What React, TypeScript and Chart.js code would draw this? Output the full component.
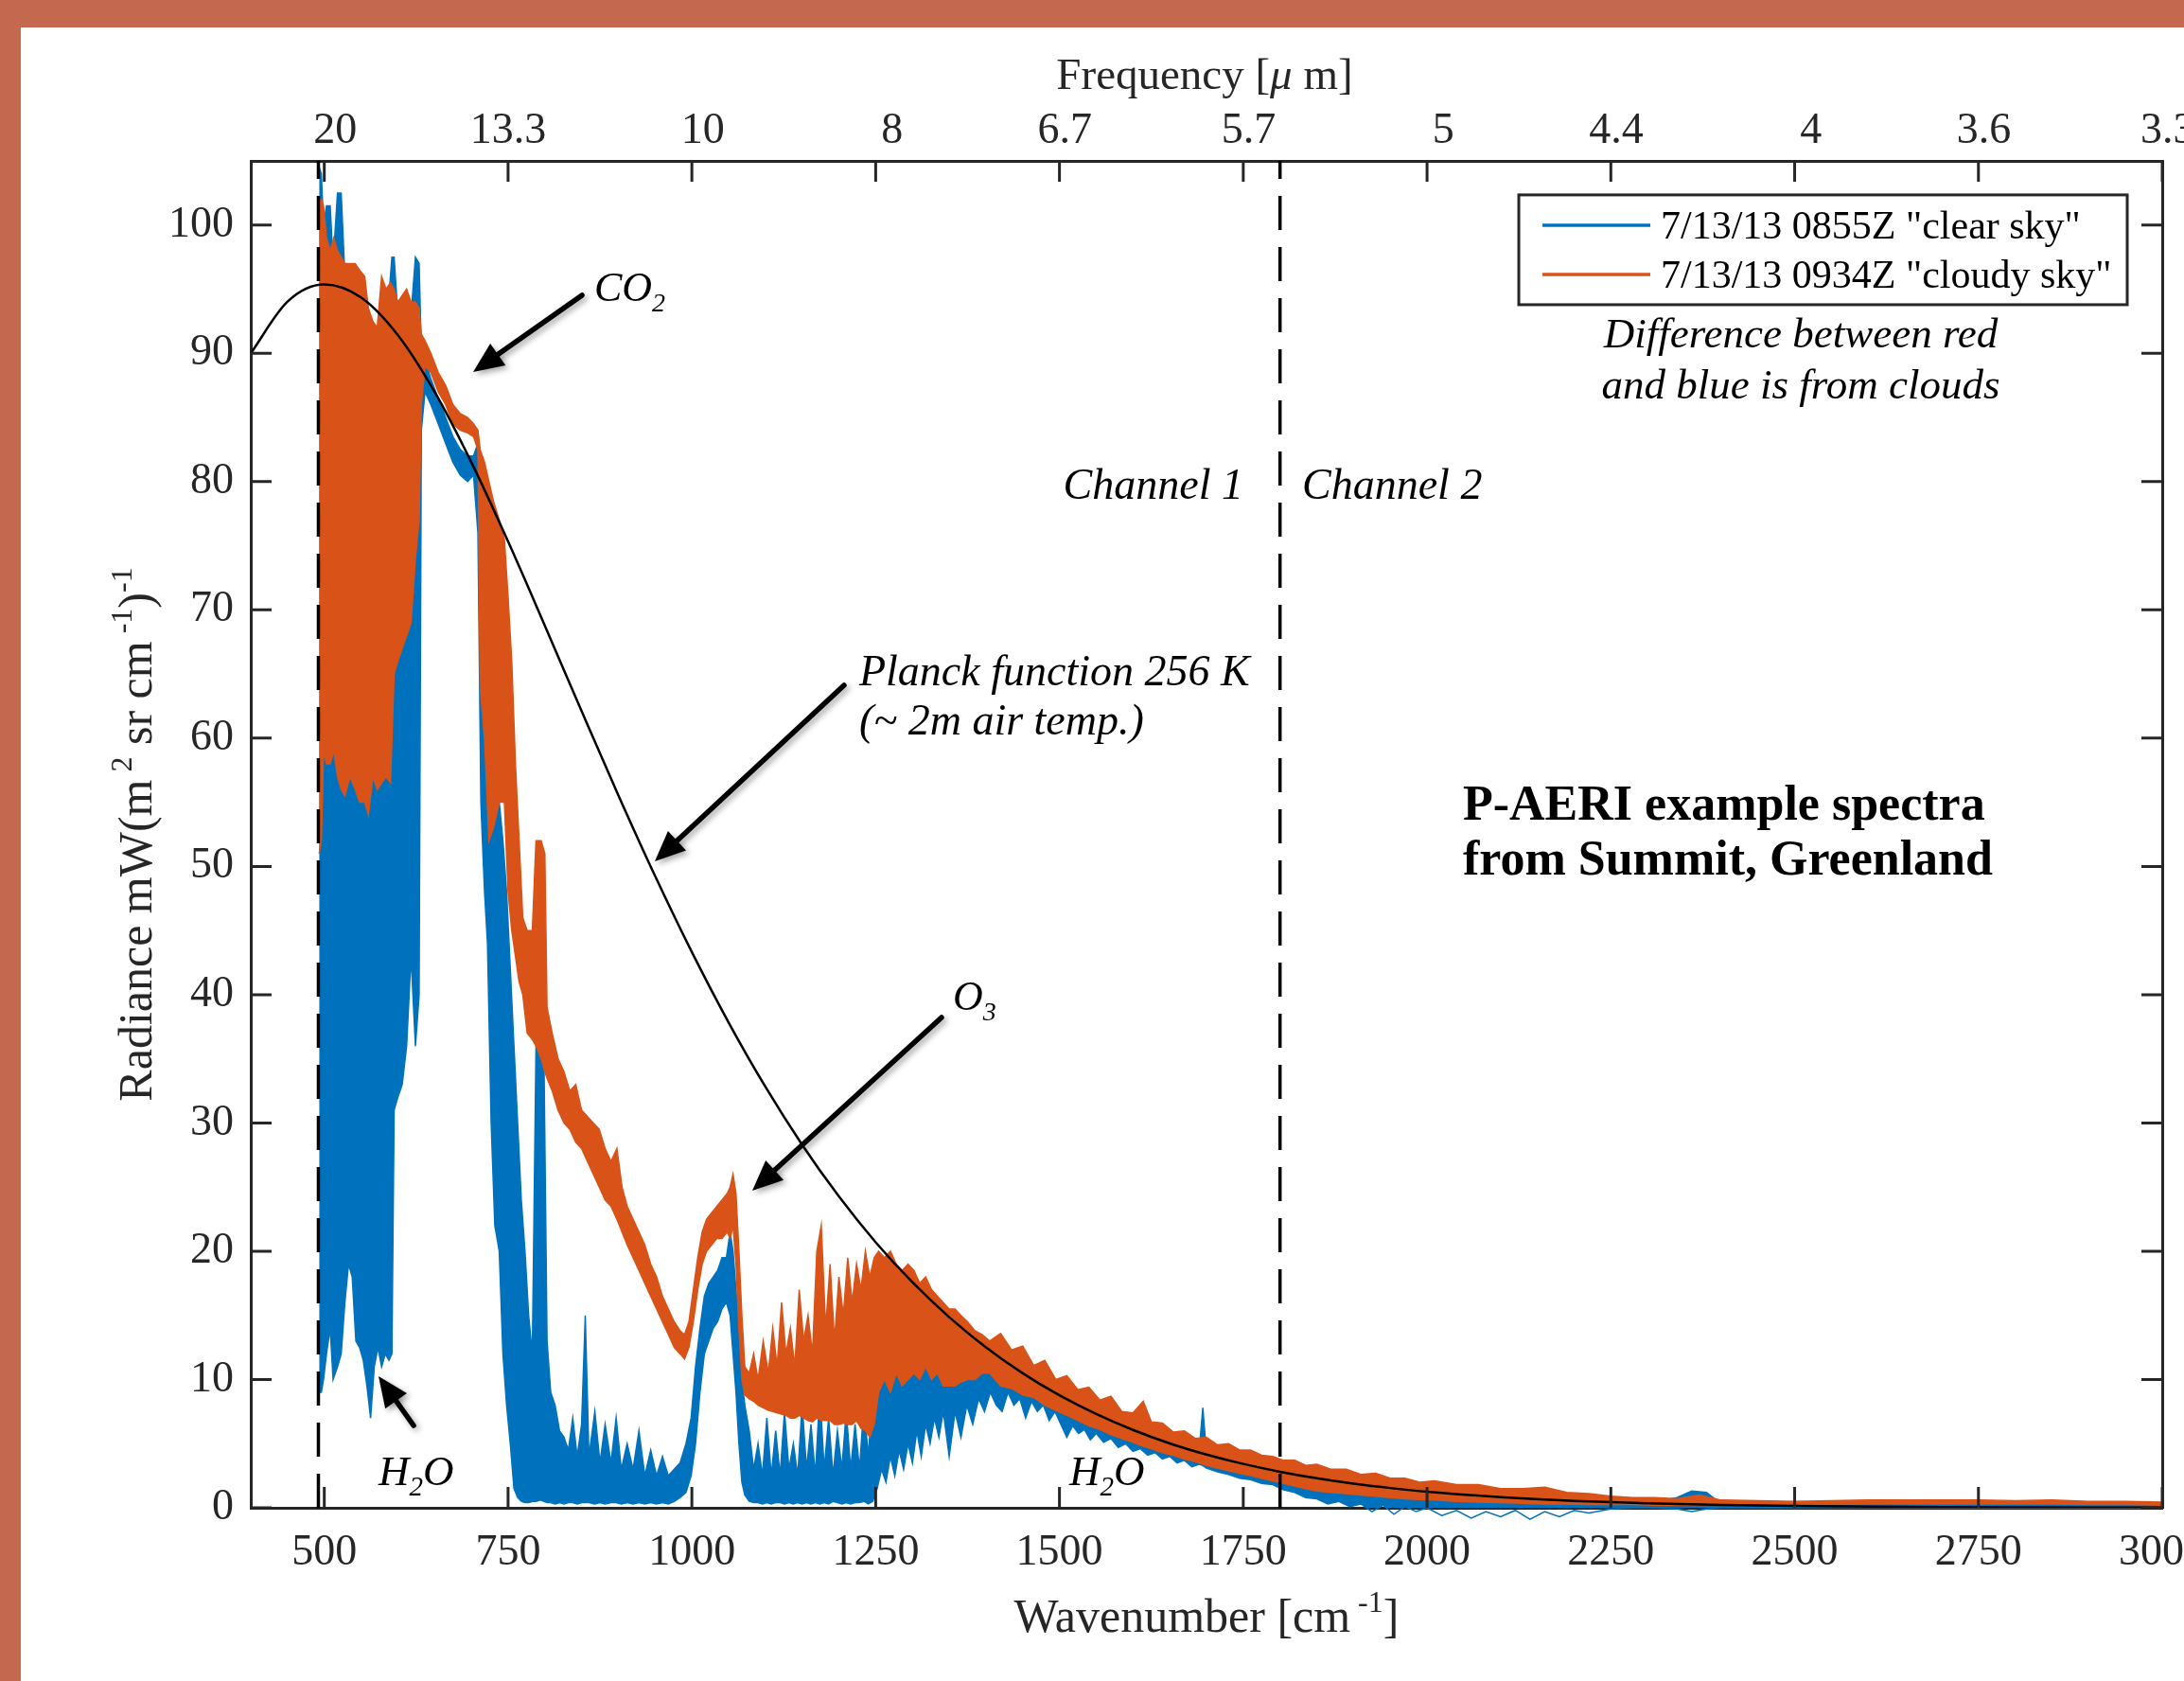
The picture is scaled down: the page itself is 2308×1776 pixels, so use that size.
import React, { useEffect, useRef } from 'react';
import { Chart, registerables } from 'chart.js';

Chart.register(...registerables);

const W = 2308;
const H = 1776;
const SERIF = '"Liberation Serif", "Times New Roman", Times, serif';
const AXIS = '#262626';
const BLUE = '#0072BD';
const ORANGE = '#D95319';
const FRAME = '#C4694F';

// ---- axes ----
const xTicks = [500, 750, 1000, 1250, 1500, 1750, 2000, 2250, 2500, 2750, 3000];
// top-axis labels are right-justified to 4 characters in the original
const freqLabels = ['  20', '13.3', '  10', '   8', ' 6.7', ' 5.7', '   5', ' 4.4', '   4', ' 3.6', ' 3.3'];
const yTicks = [0, 10, 20, 30, 40, 50, 60, 70, 80, 90, 100];

// ---- series labels ----
const clearLabel = '7/13/13 0855Z "clear sky"';
const cloudyLabel = '7/13/13 0934Z "cloudy sky"';

// ---- channel boundaries (cm-1) ----
const channelEdges = [492, 1800];

// ---- Planck 256 K curve: wavenumber, radiance ----
const planckWn = [400, 450, 500, 550, 600, 650, 700, 750, 800, 850, 900, 950, 1000, 1050, 1100, 1150, 1200, 1250, 1300, 1350, 1400, 1450, 1500, 1550, 1600, 1650, 1700, 1750, 1800, 1850, 1900, 1950, 2000, 2100, 2200, 2300, 2400, 2500, 2600, 2700, 2800, 2900, 3000];
const planckVal = [90.0, 94.03, 95.37, 94.35, 91.42, 87.0, 81.51, 75.33, 68.77, 62.11, 55.55, 49.25, 43.32, 37.83, 32.82, 28.3, 24.27, 20.7, 17.58, 14.86, 12.51, 10.49, 8.77, 7.31, 6.07, 5.02, 4.15, 3.42, 2.81, 2.3, 1.88, 1.54, 1.25, 0.83, 0.54, 0.35, 0.23, 0.15, 0.094, 0.06, 0.038, 0.024, 0.015];

// ---- clear-sky spectrum envelope: [wavenumber, upper, lower] ----
const clearSpectrum: number[][] = [
  [493, 104.5, 9], [496, 104, 9], [499, 100, 10], [503, 101.5, 12], [508, 101.5, 14], [512, 97, 10], [518, 102.5, 11], [523, 102.5, 12], [528, 96, 16], [533, 96, 19], [538, 96, 18], [543, 96, 13], [548, 95.5, 12.5], [553, 95, 11.5], [558, 92.5, 9.5], [563, 92, 7], [568, 91.5, 11], [573, 91, 12.5], [578, 95, 11], [583, 94, 12], [588, 94.5, 11.5], [592, 97.5, 12], [595, 97.5, 31], [600, 93, 32], [606, 93.5, 33], [612, 94, 36], [618, 93, 43], [624, 97.5, 36], [629, 97, 40],
  [632, 90, 84], [637, 89.5, 87], [645, 88, 86], [655, 86.5, 84.5], [665, 85, 83], [675, 83.5, 81.5], [685, 82.5, 80.5], [695, 82, 80], [703, 82, 80.5], [709, 83, 76],
  [713, 81, 55], [718, 80, 48], [722, 78, 44], [727, 62, 30], [732, 57, 22], [738, 55, 20], [743, 52, 12], [748, 48, 8], [753, 42, 5], [758, 36, 1.5], [763, 30, 0.8], [768, 24, 0.5], [773, 20, 0.4], [778, 15, 0.4], [783, 12, 0.5], [788, 36, 0.5], [794, 37, 0.6], [799, 34, 0.5], [803, 13, 0.4], [808, 9, 0.4], [814, 8, 0.3], [820, 6, 0.4], [826, 5.5, 0.3], [832, 4.5, 0.4], [838, 7, 0.4], [844, 4, 0.3], [850, 6.5, 0.4], [855, 15, 0.4], [860, 4, 0.4], [868, 7.5, 0.3], [875, 3.5, 0.4], [882, 6.5, 0.3], [890, 3.5, 0.4], [897, 7, 0.4], [904, 3, 0.3], [912, 5, 0.4], [920, 3, 0.3], [928, 6, 0.4], [936, 2.5, 0.3], [944, 4.5, 0.4], [952, 2.5, 0.3], [960, 4, 0.4], [968, 2.5, 0.3], [976, 3, 0.5], [984, 3.5, 0.8], [992, 5, 1.2],
  [999, 7, 2.5], [1005, 11, 5], [1011, 14, 9], [1017, 16.5, 12], [1023, 17.5, 13], [1029, 18, 14], [1035, 18.5, 14.5], [1041, 19.5, 15.5], [1047, 19.5, 16], [1052, 21.5, 15], [1056, 20, 12], [1060, 17, 9], [1064, 14, 5], [1068, 10, 2], [1072, 8, 1], [1078, 6, 0.5],
  [1084, 3, 0.4], [1090, 5, 0.4], [1096, 2.5, 0.3], [1102, 7, 0.4], [1108, 2.5, 0.3], [1114, 6, 0.4], [1120, 2.5, 0.4], [1126, 7.5, 0.3], [1132, 3, 0.4], [1138, 5, 0.3], [1144, 2.5, 0.4], [1150, 8, 0.3], [1156, 3, 0.4], [1162, 6.5, 0.3], [1168, 2.5, 0.4], [1174, 9, 0.3], [1180, 3, 0.4], [1186, 7, 0.3], [1192, 2.5, 0.5], [1198, 6, 0.4], [1204, 3, 0.3], [1210, 7.5, 0.4], [1216, 3, 0.3], [1222, 6.5, 0.4], [1228, 3, 0.4], [1234, 8, 0.5], [1240, 4, 0.3], [1246, 9, 0.5],
  [1252, 10, 1.5], [1258, 11, 3], [1264, 12, 2], [1270, 11, 4], [1276, 12.5, 2.5], [1282, 11.5, 4.5], [1288, 13, 3], [1294, 12, 5], [1300, 13.5, 3.5], [1306, 12.5, 6], [1312, 14, 4], [1318, 13, 6.5], [1324, 14, 5], [1330, 13, 7], [1336, 14, 5.5], [1342, 13.5, 7.5], [1350, 14, 4], [1358, 13, 7.5], [1366, 13.5, 5.5], [1374, 12.5, 8], [1382, 13, 6.5], [1390, 12.5, 8.5], [1398, 12.5, 7.5], [1406, 12, 9], [1414, 12, 8], [1422, 11.5, 7.5], [1430, 11.2, 9], [1438, 11, 8], [1446, 10.7, 8.5], [1454, 10.4, 7], [1462, 10.1, 8.3], [1470, 9.8, 7.5], [1478, 9.5, 8], [1486, 9.2, 6.8], [1494, 8.9, 7.5], [1502, 8.7, 6.5], [1510, 8.4, 5.5], [1518, 8.1, 6.4], [1526, 7.9, 5.8], [1534, 7.7, 6.1], [1542, 7.4, 5.3], [1550, 7.2, 5.8], [1560, 6.9, 5.1], [1570, 6.6, 5.4], [1580, 6.4, 4.7], [1590, 6.2, 5], [1600, 6, 4.4], [1610, 5.8, 4.6], [1620, 5.6, 4.1], [1630, 5.4, 4.3], [1640, 5.2, 3.8], [1650, 5, 4], [1660, 4.9, 3.5], [1670, 4.7, 3.7], [1680, 4.6, 3.2], [1690, 4.4, 3.4], [1695, 7.8, 3.3], [1700, 4.2, 3.1], [1715, 4, 2.8], [1730, 3.8, 2.6], [1745, 3.6, 2.3], [1760, 3.4, 2.2], [1775, 3.2, 1.9], [1790, 3, 1.8], [1805, 2.9, 1.4], [1820, 2.7, 1.2], [1835, 2.6, 0.8], [1850, 2.4, 0.7], [1865, 2.3, 0.3], [1880, 2.1, 0.5], [1895, 2, 0.1], [1910, 1.9, 0.3], [1925, 1.8, -0.3], [1940, 1.7, 0.2], [1955, 1.6, -0.5], [1970, 1.5, 0.1], [1985, 1.4, -0.3], [2000, 1.3, 0], [2020, 1.2, -0.6], [2040, 1.1, -0.2], [2060, 1, -0.8], [2080, 0.9, -0.3], [2100, 0.85, -0.7], [2120, 0.8, -0.2], [2140, 0.7, -0.9], [2160, 0.65, -0.3], [2180, 0.6, -0.7], [2200, 0.55, -0.2], [2220, 0.5, -0.4], [2250, 0.5, -0.1], [2280, 0.45, 0], [2310, 0.5, 0], [2340, 0.8, -0.1], [2360, 1.3, -0.3], [2380, 1.2, -0.1], [2400, 0.3, 0], [2500, 0.25, 0], [2700, 0.25, 0], [3000, 0.25, 0],
];

// ---- cloudy-sky spectrum envelope: [wavenumber, upper, lower] ----
const cloudySpectrum: number[][] = [
  [493, 102, 51], [496, 102, 52], [499, 101.5, 59], [503, 99, 58], [508, 98, 58], [513, 99, 59], [518, 98, 57], [523, 97.5, 56], [528, 97, 55.5], [535, 97, 57], [542, 97, 56], [548, 96.5, 55], [555, 96, 55], [560, 93.5, 54], [566, 92.5, 57], [572, 92, 56], [578, 96, 56.5], [584, 95, 57], [590, 95.5, 56.5], [595, 95, 65], [600, 94, 66], [606, 94.5, 67], [612, 95, 68], [618, 94, 69], [624, 94, 74], [629, 93.5, 77],
  [632, 91.5, 86], [637, 91, 89], [645, 90, 88.5], [655, 88.5, 87], [665, 87.5, 86], [675, 86, 84.5], [685, 85.3, 84], [695, 85, 83.8], [703, 84.5, 83.5], [709, 84, 82.5],
  [712, 82.5, 64], [718, 81.5, 60], [724, 80, 52], [730, 78.5, 53], [738, 77, 55], [745, 75.5, 55], [750, 71, 48], [755, 66, 45], [760, 58, 43], [765, 52, 41], [770, 46, 40], [776, 45, 37], [783, 45, 36.5], [788, 52, 36], [795, 52, 35], [800, 51, 34], [803, 39, 33.5], [810, 37, 32.5], [818, 35, 31], [826, 34, 30], [834, 32.5, 29.5], [842, 33, 28.5], [850, 31, 28], [858, 30.5, 27], [866, 30, 26], [874, 29.5, 25], [882, 28, 24], [890, 27, 23.5], [898, 28, 22.5], [905, 25, 21.5], [912, 23.5, 20.5], [920, 22.5, 19.5], [928, 21.5, 18.5], [936, 20.5, 17.5], [944, 19, 16.5], [952, 18, 15.5], [960, 16.5, 14.5], [968, 15.5, 13.5], [976, 14.5, 12.5], [984, 13.8, 12], [990, 13.5, 11.6],
  [996, 14.5, 12.5], [1002, 17, 14.5], [1008, 19.5, 17], [1014, 21.5, 19], [1020, 22.5, 20], [1027, 23, 20.5], [1034, 23.5, 21], [1041, 24, 21], [1048, 24.5, 21.5], [1052, 25, 21], [1056, 26, 22], [1060, 24.5, 19], [1064, 20, 14], [1068, 15, 10], [1072, 11, 8.8],
  [1078, 10.5, 8.5], [1084, 12, 8.3], [1090, 10, 8], [1097, 13, 7.8], [1104, 10.5, 7.6], [1110, 14, 7.5], [1116, 11, 7.4], [1122, 16, 7.3], [1128, 12, 7.2], [1134, 14, 7], [1140, 11, 7], [1146, 17, 7.2], [1152, 13, 7], [1158, 15, 6.8], [1164, 12, 6.7], [1170, 20, 7], [1176, 22, 6.8], [1182, 14, 6.8], [1188, 19, 6.8], [1194, 13, 6.5], [1200, 18, 6.5], [1206, 15, 6.6], [1212, 19.5, 6.5], [1218, 16, 6.5], [1224, 19, 6.8], [1230, 17, 6.2], [1236, 20, 6], [1242, 18, 5.5], [1248, 19.5, 6.5],
  [1254, 20, 9], [1262, 19.5, 10], [1270, 20, 9], [1278, 19, 10.5], [1286, 18.5, 9.5], [1294, 19, 10], [1302, 18.5, 10.5], [1310, 17.5, 10], [1318, 18, 11], [1326, 17, 10], [1334, 16.5, 10.5], [1342, 16, 9.5], [1350, 15.5, 9.5], [1358, 15.5, 9.5], [1366, 15, 9.8], [1375, 14.5, 10], [1385, 13.8, 10], [1395, 13.5, 10.5], [1405, 13, 10.5],
  [1420, 13.6, 9.5], [1435, 12.3, 9.3], [1450, 12.6, 8.8], [1465, 11.1, 8.6], [1480, 11.5, 8], [1495, 10, 7.6], [1510, 10.3, 7.2], [1525, 9.2, 6.8], [1540, 9.4, 6.4], [1555, 8.4, 6.1], [1570, 8.7, 5.7], [1585, 7.5, 5.4], [1600, 7.4, 5.1], [1614, 8.3, 4.8], [1625, 6.7, 4.6], [1640, 6.6, 4.3], [1655, 5.9, 4.1], [1670, 6, 3.8], [1685, 5.4, 3.6], [1700, 5.5, 3.3], [1715, 4.9, 3.1], [1730, 5, 2.9], [1745, 4.5, 2.7], [1760, 4.5, 2.5], [1775, 4.1, 2.3], [1790, 4, 2.1], [1805, 3.7, 1.9], [1820, 3.7, 1.7], [1835, 3.3, 1.5], [1850, 3.4, 1.3], [1870, 3, 1.2], [1890, 3, 1.1], [1910, 2.6, 1], [1930, 2.7, 0.9], [1950, 2.3, 0.8], [1970, 2.3, 0.7], [1990, 2, 0.65], [2010, 2.1, 0.6], [2040, 1.8, 0.5], [2070, 1.8, 0.45], [2100, 1.5, 0.4], [2130, 1.5, 0.35], [2160, 1.6, 0.3], [2190, 1.2, 0.3], [2220, 1.1, 0.25], [2250, 0.9, 0.25], [2280, 0.8, 0.25], [2310, 0.8, 0.2], [2340, 0.7, 0.2], [2370, 1, 0.2], [2400, 0.6, 0.2], [2450, 0.55, 0.25], [2500, 0.5, 0.25], [2550, 0.55, 0.25], [2600, 0.6, 0.3], [2650, 0.6, 0.3], [2700, 0.6, 0.3], [2750, 0.6, 0.3], [2800, 0.55, 0.3], [2850, 0.6, 0.3], [2900, 0.5, 0.25], [2950, 0.5, 0.25], [3000, 0.45, 0.2],
];

// ---------- drawing helpers ----------
type Seg = { t: string; sup?: boolean; sub?: boolean; it?: boolean };

function drawRich(
  ctx: CanvasRenderingContext2D,
  segs: Seg[],
  x: number,
  y: number,
  size: number,
  opts: { italic?: boolean; bold?: boolean; align?: 'left' | 'center' | 'right'; color?: string } = {}
) {
  const fontOf = (sz: number, it: boolean) => `${it ? 'italic ' : ''}${opts.bold ? 'bold ' : ''}${sz}px ${SERIF}`;
  const widths: number[] = [];
  let total = 0;
  for (const s of segs) {
    const sz = s.sup || s.sub ? Math.round(size * 0.64) : size;
    ctx.font = fontOf(sz, !!(opts.italic || s.it));
    const w = ctx.measureText(s.t).width;
    widths.push(w);
    total += w;
  }
  const align = opts.align || 'left';
  let cx = align === 'center' ? x - total / 2 : align === 'right' ? x - total : x;
  ctx.textAlign = 'left';
  ctx.textBaseline = 'alphabetic';
  ctx.fillStyle = opts.color || '#000';
  segs.forEach((s, i) => {
    const sz = s.sup || s.sub ? Math.round(size * 0.64) : size;
    ctx.font = fontOf(sz, !!(opts.italic || s.it));
    const dy = s.sup ? -size * 0.42 : s.sub ? size * 0.24 : 0;
    ctx.fillText(s.t, cx, y + dy);
    cx += widths[i];
  });
}

function drawArrow(ctx: CanvasRenderingContext2D, x1: number, y1: number, x2: number, y2: number) {
  const ang = Math.atan2(y2 - y1, x2 - x1);
  const hl = 32;
  const hw = 14;
  const bx = x2 - hl * Math.cos(ang);
  const by = y2 - hl * Math.sin(ang);
  ctx.save();
  ctx.shadowColor = 'rgba(0,0,0,0.35)';
  ctx.shadowBlur = 6;
  ctx.shadowOffsetX = 3;
  ctx.shadowOffsetY = 3;
  ctx.strokeStyle = '#000';
  ctx.fillStyle = '#000';
  ctx.lineWidth = 5.5;
  ctx.lineCap = 'round';
  ctx.beginPath();
  ctx.moveTo(x1, y1);
  ctx.lineTo(bx + 4 * Math.cos(ang), by + 4 * Math.sin(ang));
  ctx.stroke();
  ctx.beginPath();
  ctx.moveTo(x2, y2);
  ctx.lineTo(bx + hw * Math.sin(ang), by - hw * Math.cos(ang));
  ctx.lineTo(bx - hw * Math.sin(ang), by + hw * Math.cos(ang));
  ctx.closePath();
  ctx.fill();
  ctx.restore();
}

const framePlugin = {
  id: 'frame',
  beforeDraw(chart: any) {
    const { ctx, width, height } = chart;
    ctx.save();
    ctx.fillStyle = '#ffffff';
    ctx.fillRect(0, 0, width, height);
    ctx.fillStyle = FRAME;
    ctx.fillRect(0, 0, width, 29);
    ctx.fillRect(0, 0, 22, height);
    ctx.restore();
  },
};

const decorPlugin = {
  id: 'decor',
  afterDraw(chart: any) {
    const { ctx, chartArea: a, scales } = chart;
    const sx = scales.x;
    const sy = scales.y;
    const P = (wn: number, v: number): [number, number] => [sx.getPixelForValue(wn), sy.getPixelForValue(v)];
    ctx.save();

    // inward tick marks on all four sides
    const TL = 22;
    ctx.strokeStyle = AXIS;
    ctx.lineWidth = 3;
    ctx.beginPath();
    for (const t of scales.x.ticks) {
      const p = scales.x.getPixelForValue(t.value);
      ctx.moveTo(p, a.bottom);
      ctx.lineTo(p, a.bottom - TL);
    }
    for (const t of scales.x2.ticks) {
      const p = scales.x2.getPixelForValue(t.value);
      ctx.moveTo(p, a.top);
      ctx.lineTo(p, a.top + TL);
    }
    for (const t of scales.y.ticks) {
      const p = scales.y.getPixelForValue(t.value);
      ctx.moveTo(a.left, p);
      ctx.lineTo(a.left + TL, p);
    }
    for (const t of scales.y2.ticks) {
      const p = scales.y2.getPixelForValue(t.value);
      ctx.moveTo(a.right, p);
      ctx.lineTo(a.right - TL, p);
    }
    ctx.stroke();

    // axis titles
    drawRich(ctx, [{ t: 'Frequency [' }, { t: 'μ', it: true }, { t: ' m]' }], 1273, 94, 47, { align: 'center', color: AXIS });
    drawRich(ctx, [{ t: 'Wavenumber [cm' }, { t: ' -1', sup: true }, { t: ']' }], 1275, 1724, 50, { align: 'center', color: AXIS });
    ctx.save();
    ctx.translate(160, (a.top + a.bottom) / 2);
    ctx.rotate(-Math.PI / 2);
    drawRich(ctx, [{ t: 'Radiance mW(m' }, { t: ' 2', sup: true }, { t: ' sr cm' }, { t: ' -1', sup: true }, { t: ')' }, { t: '-1', sup: true }], 0, 0, 50, { align: 'center', color: AXIS });
    ctx.restore();

    // legend
    const ds = chart.data.datasets;
    const [lx1, ly1] = P(2124.8, 102.35);
    const [lx2, ly2] = P(2952.4, 93.79);
    ctx.fillStyle = '#fff';
    ctx.fillRect(lx1, ly1, lx2 - lx1, ly2 - ly1);
    ctx.strokeStyle = AXIS;
    ctx.lineWidth = 3;
    ctx.strokeRect(lx1, ly1, lx2 - lx1, ly2 - ly1);
    const entries = [ds[2], ds[0]];
    entries.forEach((d: any, i: number) => {
      const cy = ly1 + 32 + i * 52;
      ctx.strokeStyle = d.borderColor;
      ctx.lineWidth = 3.5;
      ctx.beginPath();
      ctx.moveTo(lx1 + 25, cy);
      ctx.lineTo(lx1 + 139, cy);
      ctx.stroke();
      drawRich(ctx, [{ t: d.label }], lx1 + 150, cy + 14, 42, { color: '#000' });
    });

    // in-plot annotations
    let p = P(2508.3, 90.47);
    drawRich(ctx, [{ t: 'Difference between red' }], p[0], p[1], 45, { italic: true, align: 'center' });
    p = P(2508.3, 86.48);
    drawRich(ctx, [{ t: 'and blue is from clouds' }], p[0], p[1], 45, { italic: true, align: 'center' });

    p = P(1750.2, 78.66);
    drawRich(ctx, [{ t: 'Channel 1' }], p[0], p[1], 46, { italic: true, align: 'right' });
    p = P(1830, 78.66);
    drawRich(ctx, [{ t: 'Channel 2' }], p[0], p[1], 46, { italic: true });

    p = P(2048.8, 53.68);
    drawRich(ctx, [{ t: 'P-AERI example spectra' }], p[0], p[1], 52, { bold: true });
    p = P(2048.8, 49.37);
    drawRich(ctx, [{ t: 'from Summit, Greenland' }], p[0], p[1], 52, { bold: true });

    p = P(867.2, 94.08);
    drawRich(ctx, [{ t: 'CO' }, { t: '2', sub: true }], p[0], p[1], 44, { italic: true });
    p = P(1227.6, 64.12);
    drawRich(ctx, [{ t: 'Planck function 256 K' }], p[0], p[1], 46, { italic: true });
    p = P(1227.6, 60.29);
    drawRich(ctx, [{ t: '(~ 2m air temp.)' }], p[0], p[1], 46, { italic: true });
    p = P(1355.1, 38.81);
    drawRich(ctx, [{ t: 'O' }, { t: '3', sub: true }], p[0], p[1], 44, { italic: true });
    p = P(573.8, 1.77);
    drawRich(ctx, [{ t: 'H' }, { t: '2', sub: true }, { t: 'O' }], p[0], p[1], 45, { italic: true });
    p = P(1513.4, 1.77);
    drawRich(ctx, [{ t: 'H' }, { t: '2', sub: true }, { t: 'O' }], p[0], p[1], 45, { italic: true });

    const arrows: number[][] = [
      [850.5, 94.53, 702.5, 88.55],
      [1207.0, 64.12, 949.6, 50.4],
      [1339.6, 38.22, 1082.2, 24.72],
      [621.4, 6.42, 573.8, 10.26],
    ];
    for (const [w1, v1, w2, v2] of arrows) {
      const [x1, y1] = P(w1, v1);
      const [x2, y2] = P(w2, v2);
      drawArrow(ctx, x1, y1, x2, y2);
    }
    ctx.restore();
  },
};

const tickFont = { family: SERIF, size: 46 };
const fixedTicks = (values: number[]) => (s: any) => {
  s.ticks = values.map((v) => ({ value: v }));
};

export default function App() {
  const ref = useRef<HTMLCanvasElement>(null);
  useEffect(() => {
    if (!ref.current) return;
    const spectrum = (rows: number[][], col: number) => rows.map((r) => ({ x: r[0], y: r[col] }));
    const clip = { left: 0, right: 0, top: 0, bottom: 20 };
    const chart = new Chart(ref.current, {
      type: 'line',
      data: {
        datasets: [
          { label: cloudyLabel, data: spectrum(cloudySpectrum, 1), borderColor: ORANGE, backgroundColor: ORANGE, borderWidth: 1.5, pointRadius: 0, fill: false, order: 1, clip },
          { label: cloudyLabel + ' min', data: spectrum(cloudySpectrum, 2), borderColor: ORANGE, backgroundColor: ORANGE, borderWidth: 1.5, pointRadius: 0, fill: '-1', order: 1, clip },
          { label: clearLabel, data: spectrum(clearSpectrum, 1), borderColor: BLUE, backgroundColor: BLUE, borderWidth: 1.5, pointRadius: 0, fill: false, order: 2, clip },
          { label: clearLabel + ' min', data: spectrum(clearSpectrum, 2), borderColor: BLUE, backgroundColor: BLUE, borderWidth: 1.5, pointRadius: 0, fill: '-1', order: 2, clip },
          { label: 'Planck 256 K', data: planckWn.map((w, i) => ({ x: w, y: planckVal[i] })), borderColor: '#000', borderWidth: 2.5, pointRadius: 0, fill: false, cubicInterpolationMode: 'monotone', order: 0 },
          ...channelEdges.map((e) => ({ label: 'edge ' + e, data: [{ x: e, y: 0 }, { x: e, y: 105 }], borderColor: '#000', borderWidth: 3.5, borderDash: [36, 18], pointRadius: 0, fill: false, order: -1 })),
        ] as any,
      },
      options: {
        responsive: false,
        maintainAspectRatio: false,
        animation: false,
        devicePixelRatio: 1,
        events: [],
        layout: { padding: 0 },
        plugins: { legend: { display: false }, tooltip: { enabled: false }, title: { display: false } },
        scales: {
          x: {
            type: 'linear', position: 'bottom', min: 400, max: 3000, z: 1,
            afterBuildTicks: fixedTicks(xTicks),
            afterFit: (s: any) => { s.height = H - 1593; s.paddingLeft = 0; s.paddingRight = 0; },
            grid: { display: false, drawTicks: false },
            border: { display: true, color: AXIS, width: 3 },
            ticks: { color: AXIS, font: tickFont, padding: 20, maxRotation: 0, autoSkip: false, callback: (v: any) => String(v) },
          },
          x2: {
            type: 'linear', position: 'top', min: 400, max: 3000, z: 1,
            afterBuildTicks: fixedTicks(xTicks),
            afterFit: (s: any) => { s.height = 170; s.paddingLeft = 0; s.paddingRight = 0; },
            grid: { display: false, drawTicks: false },
            border: { display: true, color: AXIS, width: 3 },
            ticks: { color: AXIS, font: tickFont, padding: 3, maxRotation: 0, autoSkip: false, callback: (v: any) => freqLabels[xTicks.indexOf(Number(v))] ?? '' },
          },
          y: {
            type: 'linear', position: 'left', min: 0, max: 105, z: 1,
            afterBuildTicks: fixedTicks(yTicks),
            afterFit: (s: any) => { s.width = 265; s.paddingTop = 0; s.paddingBottom = 0; },
            grid: { display: false, drawTicks: false },
            border: { display: true, color: AXIS, width: 3 },
            ticks: { color: AXIS, font: tickFont, padding: 18, autoSkip: false, callback: (v: any) => String(v) },
          },
          y2: {
            type: 'linear', position: 'right', min: 0, max: 105, z: 1,
            afterBuildTicks: fixedTicks(yTicks),
            afterFit: (s: any) => { s.width = W - 2285; s.paddingTop = 0; s.paddingBottom = 0; },
            grid: { display: false, drawTicks: false },
            border: { display: true, color: AXIS, width: 3 },
            ticks: { display: false },
          },
        },
      } as any,
      plugins: [framePlugin, decorPlugin],
    });
    return () => chart.destroy();
  }, []);
  return (
    <div style={{ position: 'fixed', left: 0, top: 0, width: W, height: H, background: '#fff' }}>
      <canvas ref={ref} width={W} height={H} style={{ display: 'block', width: W, height: H }} />
    </div>
  );
}
